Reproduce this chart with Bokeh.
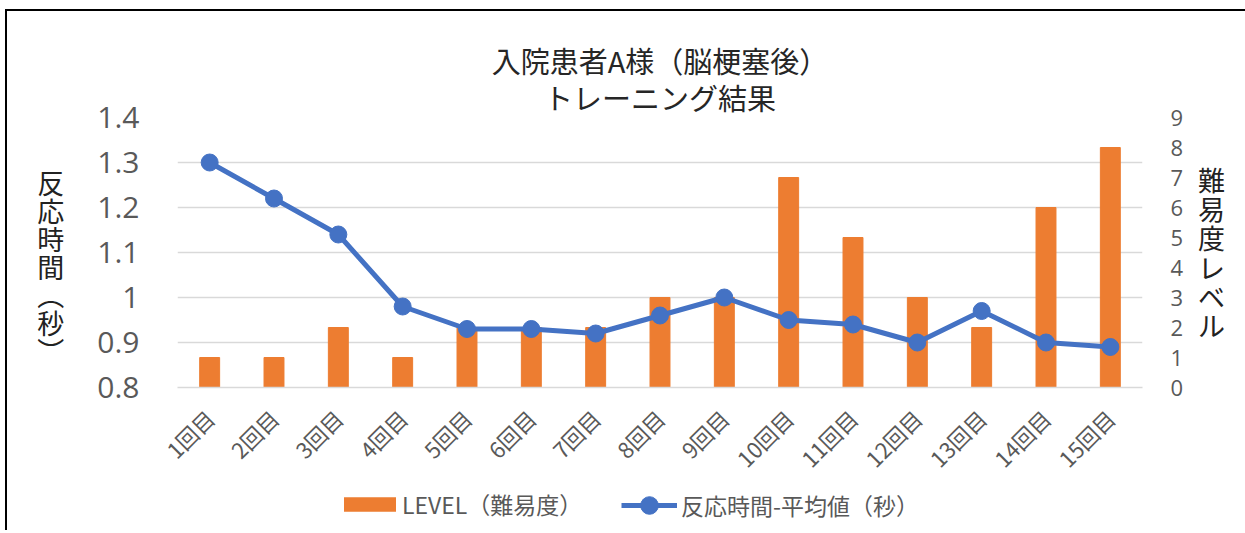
import math
from bokeh.plotting import figure
from bokeh.layouts import column
from bokeh.models import (FactorRange, Range1d, LinearAxis, FixedTicker, Title,
                          Legend, LegendItem, ColumnDataSource)
from bokeh.embed import file_html
from bokeh.resources import INLINE

categories = [f"{i}回目" for i in range(1, 16)]
level = [1, 1, 2, 1, 2, 2, 2, 3, 3, 7, 5, 3, 2, 6, 8]
reaction = [1.30, 1.22, 1.14, 0.98, 0.93, 0.93, 0.92, 0.96, 1.00, 0.95, 0.94, 0.90, 0.97, 0.90, 0.89]
left_ticks = [0.8, 0.9, 1.0, 1.1, 1.2, 1.3, 1.4]
left_labels = ["0.8", "0.9", "1", "1.1", "1.2", "1.3", "1.4"]
right_ticks = list(range(0, 10))
series_names = ["LEVEL（難易度）", "反応時間-平均値（秒）"]

JP = "Noto Sans CJK JP"
NUM = "Open Sans"
GRAY = "#595959"
ORANGE = "#ED7D31"
BLUE = "#4472C4"
W = 1245

src = ColumnDataSource(dict(cat=categories, level=level, reaction=reaction))

p = figure(width=W, height=487, x_range=FactorRange(factors=categories),
           y_range=Range1d(0.8, 1.4), output_backend="svg", toolbar_location=None,
           min_border_left=177, min_border_right=103, min_border_top=117, min_border_bottom=100)
p.extra_y_ranges = {"lvl": Range1d(0, 9)}
p.frame_align = False
p.border_fill_color = None

t2 = Title(text="トレーニング結果", align="center", text_font=JP, text_font_size="29px",
           text_font_style="normal", text_color="#262626", standoff=0)
t1 = Title(text="入院患者A様（脳梗塞後）", align="center", text_font=JP, text_font_size="29px",
           text_font_style="normal", text_color="#262626", standoff=-14)
p.add_layout(t2, "above")
p.add_layout(t1, "above")

p.vbar(x="cat", top="level", bottom=0, width=0.31, y_range_name="lvl",
       source=src, fill_color=ORANGE, line_color=ORANGE)
p.line(x="cat", y="reaction", source=src, line_color=BLUE, line_width=5)
p.scatter(x="cat", y="reaction", source=src, size=17, fill_color=BLUE, line_color=BLUE)

# left axis
ya = p.yaxis[0]
ya.ticker = FixedTicker(ticks=left_ticks)
ya.major_label_overrides = {t: l for t, l in zip(left_ticks, left_labels)}
ya.major_label_text_font = NUM
ya.major_label_text_font_size = "30px"
ya.major_label_text_color = GRAY
ya.major_label_standoff = 32
ya.axis_line_color = None
ya.major_tick_line_color = None
ya.minor_tick_line_color = None
ya.axis_label = "　\n反\n応\n時\n間\n︵\n秒\n︶"
ya.axis_label_orientation = "horizontal"
ya.axis_label_text_font = JP
ya.axis_label_text_font_size = "27px"
ya.axis_label_text_font_style = "normal"
ya.axis_label_text_color = "#222222"
ya.axis_label_text_line_height = 0.72
ya.axis_label_standoff = 30

# right axis
ra = LinearAxis(y_range_name="lvl", ticker=FixedTicker(ticks=right_ticks))
ra.major_label_text_font = NUM
ra.major_label_text_font_size = "22px"
ra.major_label_text_color = GRAY
ra.major_label_standoff = 22
ra.axis_line_color = None
ra.major_tick_line_color = None
ra.minor_tick_line_color = None
ra.axis_label = "難\n易\n度\nレ\nベ\nル"
ra.axis_label_orientation = "horizontal"
ra.axis_label_text_font = JP
ra.axis_label_text_font_size = "27px"
ra.axis_label_text_font_style = "normal"
ra.axis_label_text_color = "#222222"
ra.axis_label_text_line_height = 0.75
ra.axis_label_standoff = 12
p.add_layout(ra, "right")

# x axis
xa = p.xaxis[0]
xa.major_label_orientation = math.pi / 4
xa.major_label_text_font = JP
xa.major_label_text_font_size = "22px"
xa.major_label_text_color = GRAY
xa.major_label_standoff = 20
xa.axis_line_color = "#D9D9D9"
xa.axis_line_width = 1.5
xa.major_tick_line_color = None
xa.minor_tick_line_color = None

p.xgrid.grid_line_color = None
p.ygrid.grid_line_color = "#D9D9D9"
p.ygrid.grid_line_width = 1.5
p.ygrid.ticker = FixedTicker(ticks=left_ticks)
p.outline_line_color = None

# legend strip below the chart (same data, plotted out of view; only the legends show)
q = figure(width=W, height=43, x_range=FactorRange(factors=categories),
           y_range=Range1d(-1000, -999), output_backend="svg", toolbar_location=None,
           x_axis_type=None, y_axis_type=None, min_border=0)
q.frame_align = False
q.border_fill_color = None
q.background_fill_color = None
q.grid.grid_line_color = None
q.outline_line_color = None
lb = q.vbar(x="cat", top="level", bottom=0, width=0.0001, source=src,
            fill_color=ORANGE, line_color=None)
ll = q.line(x="cat", y="reaction", source=src, line_color=BLUE, line_width=5)
lp = q.scatter(x="cat", y="reaction", source=src, size=17, fill_color=BLUE, line_color=BLUE)

common = dict(orientation="horizontal", label_text_font=JP, label_text_font_size="23px",
              label_text_color=GRAY, padding=0, margin=0, border_line_color=None,
              background_fill_alpha=0)
leg_a = Legend(items=[LegendItem(label=series_names[0], renderers=[lb])],
               location=(337, 9), glyph_width=65, glyph_height=18, label_standoff=0, **common)
leg_b = Legend(items=[LegendItem(label=series_names[1], renderers=[ll, lp])],
               location=(621, 3), glyph_width=56, glyph_height=44, label_standoff=4, **common)
q.add_layout(leg_a, "center")
q.add_layout(leg_b, "center")

layout = column(p, q, spacing=0)
layout.styles = {
    "background-color": "white",
    "background-image": "linear-gradient(#000,#000), linear-gradient(#000,#000)",
    "background-size": "100% 2px, 2px 100%",
    "background-position": "5px 9px, 5px 9px",
    "background-repeat": "no-repeat",
}
open("out.html", "w").write(file_html(layout, INLINE))
